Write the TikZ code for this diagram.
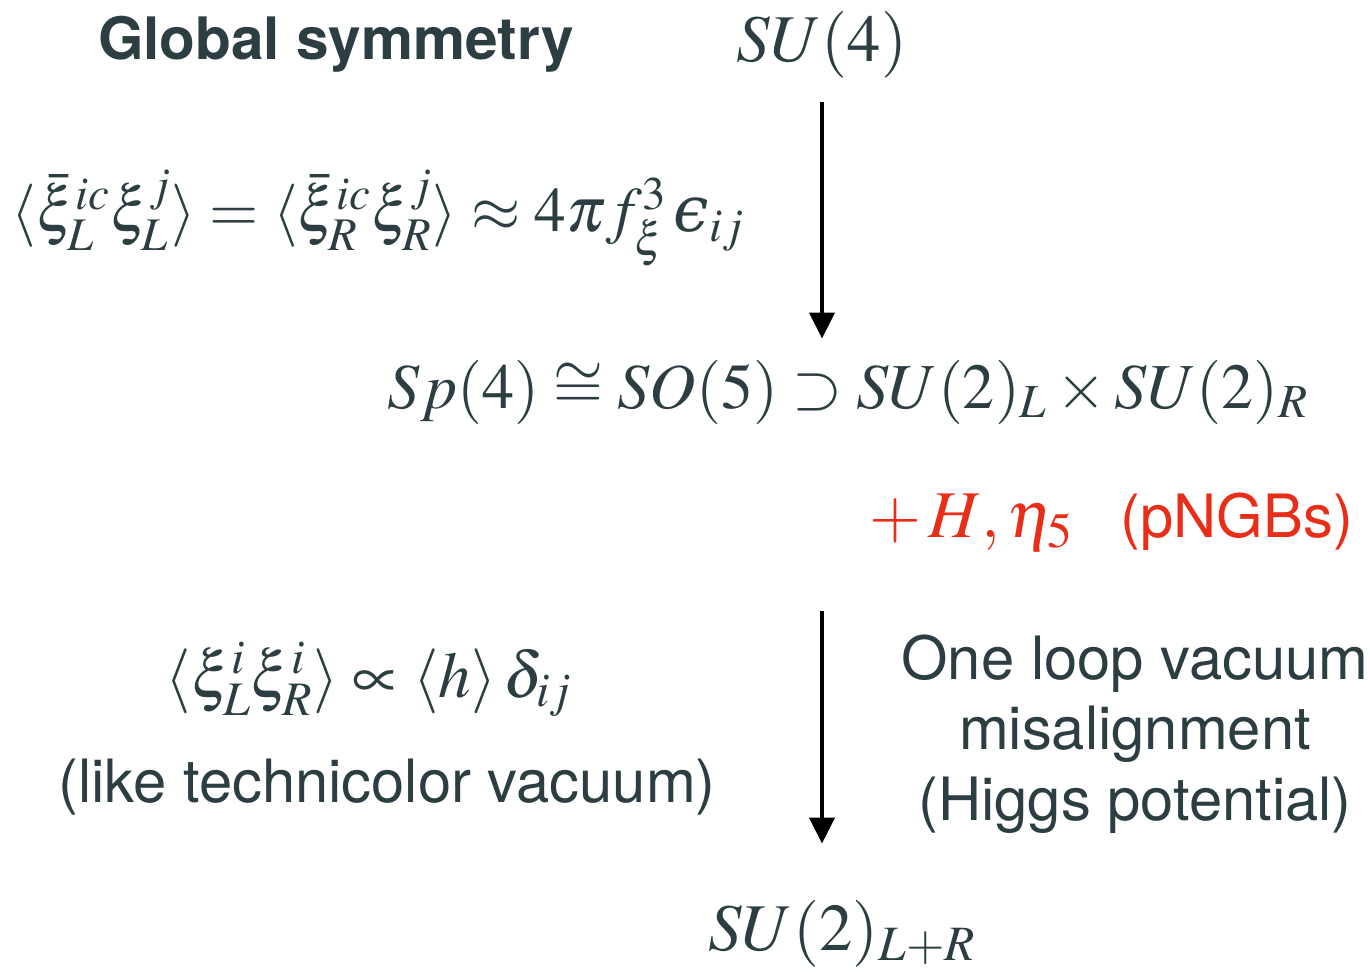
\documentclass[tikz,border=0pt]{standalone}
\usepackage{mathptmx}
\usepackage[no-math]{fontspec}
\setsansfont{TeX Gyre Heros}
\newfontfamily\epsfont{DejaVu Serif}
\usetikzlibrary{arrows.meta,positioning}
\newcommand{\lunateps}{\mbox{\epsfont\itshape\symbol{"03F5}}}
\definecolor{slate}{RGB}{44, 62, 66}
\definecolor{pngbred}{RGB}{232, 46, 24}
\tikzset{
  mathnode/.style={text=slate, inner sep=0pt, anchor=base, font=\fontsize{37}{44}\selectfont},
  textnode/.style={text=slate, inner sep=0pt, anchor=base, align=center, font=\sffamily\fontsize{34}{40}\selectfont},
  flow/.style={-{Triangle[length=0.52cm, width=0.5cm]}, line width=2.4pt, black}
}

\begin{document}
\begin{tikzpicture}
  \useasboundingbox (0,0) rectangle (27.4,-19.52);
  % top level
  \node [textnode, font=\sffamily\bfseries\fontsize{33.3}{40}\selectfont] (glob) at (6.72,-1.2) {Global symmetry};
  \node [mathnode, font=\fontsize{38}{44}\selectfont] (su4) at (16.44,-1.24) {$SU(4)$};
  \node [mathnode, font=\fontsize{36}{42}\selectfont] (cond) at (7.56,-4.64) {$\langle \bar\xi^{ic}_L\xi^{j}_L\rangle = \langle \bar\xi^{ic}_R\xi^{j}_R\rangle \approx 4\pi f_\xi^3\,\lunateps_{ij}$};
  % after first breaking
  \node [mathnode, font=\fontsize{36.5}{44}\selectfont] (sp) at (16.96,-8.16) {$Sp(4)\cong SO(5)\supset SU(2)_L\times SU(2)_R$};
  \node [mathnode, text=pngbred, font=\fontsize{38}{44}\selectfont] (ngb) at (22.22,-10.74) {$+\,H,\eta_5$\hspace{0.95cm}\sffamily\fontsize{34}{40}\selectfont (pNGBs)};
  % second breaking
  \node [mathnode] (vev) at (7.38,-13.94) {$\langle \xi^{i}_L\xi^{i}_R\rangle \propto \langle h\rangle\,\delta_{ij}$};
  \node [textnode] (tech) at (7.74,-16.04) {(like technicolor vacuum)};
  \node [textnode, anchor=center] (loop) at (22.7,-14.68) {One loop vacuum\\misalignment\\(Higgs potential)};
  \node [mathnode, font=\fontsize{38}{44}\selectfont] (su2) at (16.84,-19.0) {$SU(2)_{L+R}$};

  \draw [flow, shorten <=0.46cm, shorten >=0.42cm] (su4.south) -- (su4.south |- sp.north);
  \draw [flow, shorten <=1.2cm, shorten >=1.12cm] (su4.south |- ngb.south) -- (su4.south |- su2.north);
\end{tikzpicture}
\end{document}
